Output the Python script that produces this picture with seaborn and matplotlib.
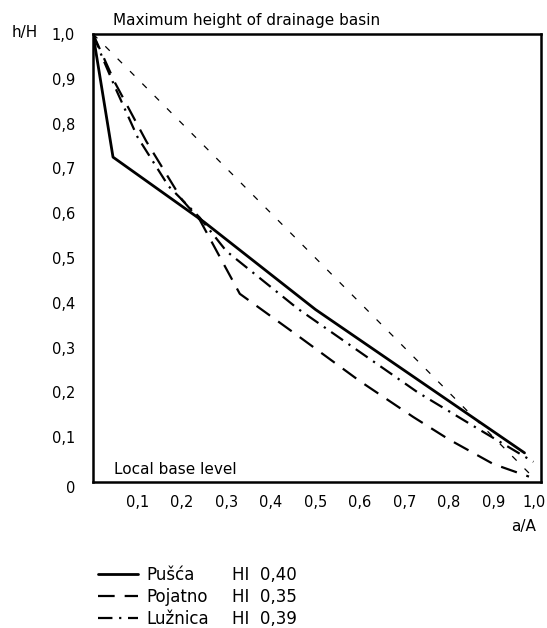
import matplotlib
matplotlib.use("Agg")
import matplotlib.pyplot as plt
import matplotlib.transforms as mtrans
import seaborn as sns

# hypsometric curves, values
pusca_x = [0.0, 0.045, 0.25, 0.5, 0.97]
pusca_y = [1.0, 0.725, 0.58, 0.385, 0.065]

pojatno_x = [0.0, 0.05, 0.12, 0.2, 0.24, 0.33, 0.45, 0.6, 0.72, 0.8, 0.9, 0.98]
pojatno_y = [1.0, 0.89, 0.76, 0.63, 0.585, 0.42, 0.334, 0.225, 0.145, 0.095, 0.04, 0.012]

luznica_x = [0.0, 0.02, 0.05, 0.1, 0.17, 0.24, 0.3, 0.46, 0.6, 0.73, 0.87, 0.99]
luznica_y = [1.0, 0.95, 0.88, 0.77, 0.66, 0.59, 0.515, 0.387, 0.29, 0.2, 0.116, 0.045]

# straight reference line
ref_x = [0.0, 0.99]
ref_y = [1.0, 0.01]

names = ['Pušća', 'Pojatno', 'Lužnica']
hi_values = ['0,40', '0,35', '0,39']
tick_vals = [0.0, 0.1, 0.2, 0.3, 0.4, 0.5, 0.6, 0.7, 0.8, 0.9, 1.0]
y_tick_labels = ['0', '0,1', '0,2', '0,3', '0,4', '0,5', '0,6', '0,7', '0,8', '0,9', '1,0']
x_tick_labels = ['', '0,1', '0,2', '0,3', '0,4', '0,5', '0,6', '0,7', '0,8', '0,9', '1,0']

sns.set_style("white")
plt.rcParams['font.family'] = ['DejaVu Sans']
plt.rcParams['text.color'] = 'black'
plt.rcParams['xtick.color'] = 'black'
plt.rcParams['ytick.color'] = 'black'

fig, ax = plt.subplots(figsize=(5.47, 6.28), dpi=100)
plt.subplots_adjust(left=0.170, right=0.989, bottom=0.2325, top=0.946)

sns.lineplot(x=ref_x, y=ref_y, ax=ax, color='black', lw=0.9,
             linestyle=(0, (5, 9)), estimator=None)
sns.lineplot(x=pusca_x, y=pusca_y, ax=ax, color='black', lw=2.0,
             linestyle='-', estimator=None)
h1 = ax.lines[-1]
sns.lineplot(x=pojatno_x, y=pojatno_y, ax=ax, color='black', lw=1.6,
             linestyle=(0, (7.5, 4.5)), estimator=None)
h2 = ax.lines[-1]
sns.lineplot(x=luznica_x, y=luznica_y, ax=ax, color='black', lw=1.6,
             linestyle=(0, (6.5, 3, 1, 3)), estimator=None)
h3 = ax.lines[-1]

ax.set_xlim(0, 1.007)
ax.set_ylim(0, 1.0)
ax.set_xticks(tick_vals)
ax.set_xticklabels(x_tick_labels)
ax.set_yticks(tick_vals)
ax.set_yticklabels(y_tick_labels)
ax.tick_params(axis='both', direction='inout', length=3, width=1.5,
               colors='black', labelsize=10.5)
ax.tick_params(axis='y', pad=11.5)
ax.tick_params(axis='x', pad=8)
for s in ax.spines.values():
    s.set_visible(True)
    s.set_color('black')
    s.set_linewidth(1.8)
ax.set_xlabel('')
ax.set_ylabel('')

# nudge the last x label and the y "0" like in the scan
last = ax.get_xticklabels()[-1]
last.set_transform(last.get_transform() +
                   mtrans.ScaledTranslation(-4 / 100, 0, fig.dpi_scale_trans))
zero = ax.get_yticklabels()[0]
zero.set_transform(zero.get_transform() +
                   mtrans.ScaledTranslation(0, -5 / 100, fig.dpi_scale_trans))

# annotations
fig.text(113 / 547, 1 - 20 / 628, 'Maximum height of drainage basin',
         fontsize=11, ha='left', va='center')
ax.text(0.047, 0.027, 'Local base level', transform=ax.transAxes,
        fontsize=11, ha='left', va='center')
fig.text(12 / 547, 1 - 33 / 628, 'h/H', fontsize=11, ha='left', va='center')
fig.text(524 / 547, 1 - 527 / 628, 'a/A', fontsize=11, ha='center', va='center')

# legend below the plot
fig.legend([h1, h2, h3], names, loc='center left',
           bbox_to_anchor=(98 / 547, 1 - 597 / 628), frameon=False,
           borderpad=0, borderaxespad=0, handlelength=2.4,
           handletextpad=0.5, labelspacing=0.25, fontsize=12)
for i, hv in enumerate(hi_values):
    fig.text(232 / 547, 1 - (575 + 22 * i) / 628, f'HI  {hv}',
             fontsize=12, ha='left', va='center')

fig.savefig('out.png', dpi=100)
